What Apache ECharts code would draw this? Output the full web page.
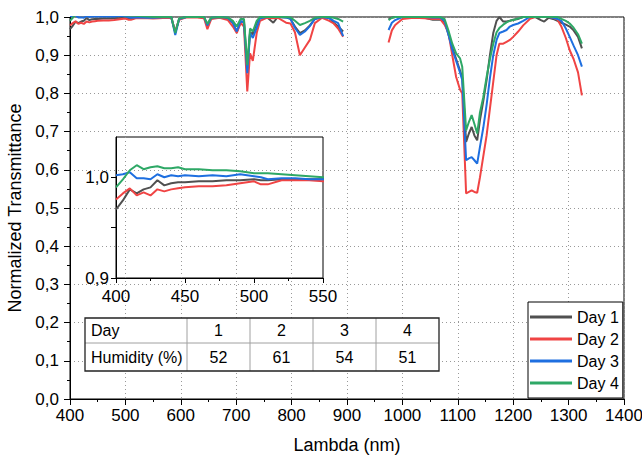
<!DOCTYPE html>
<html>
<head>
<meta charset="utf-8">
<script src="https://cdn.jsdelivr.net/npm/echarts@6/dist/echarts.min.js"></script>
<style>
html,body{margin:0;padding:0;background:#fff;}
#chart{width:642px;height:458px;}
</style>
</head>
<body>
<div id="chart"></div>
<script>
// ---- data ----
const WAVELENGTH = [400,405,410,415,420,425,430,435,440,445,450,460,470,480,490,500,505,510,520,530,540,550,
  560,575,583,590,597,610,630,642,648,655,670,685,694,701,708,714,720,725,730,737,743,755,767,775,790,798,806,815,824,833,842,855,868,876,884,893,
  935,
  975,981,987,1000,1020,1040,1055,1068,1076,1083,1090,1097,1104,1108,1115,1120,1125,1130,1135,1140,1146,1152,1158,1164,1170,1175,1182,1188,1194,1200,1209,1218,1230,1240,1250,1256,1264,1272,1280,1287,1295,1302,1309,1317,1324];

const DAY1 = [0.968,0.977,0.988,0.984,0.988,0.990,0.997,0.992,0.994,0.995,0.995,0.996,0.996,0.997,0.997,0.998,0.997,0.997,0.998,0.998,0.998,0.998,
  0.999,0.999,0.998,0.960,0.995,1.000,1.000,0.999,0.976,0.997,1.000,0.996,0.985,0.962,0.985,0.990,0.865,0.960,0.955,0.985,0.998,1.000,0.985,1.000,0.999,0.995,0.975,0.958,0.965,0.978,0.995,1.000,0.998,0.985,0.975,0.962,
  null,
  0.995,0.998,1.000,1.000,1.000,0.998,0.993,0.993,0.988,0.955,0.920,0.890,0.860,0.840,0.673,0.695,0.712,0.690,0.677,0.730,0.780,0.835,0.900,0.958,0.990,1.000,0.988,0.988,0.990,0.993,0.995,1.000,1.000,1.000,0.992,0.988,0.998,0.995,0.990,0.985,0.980,0.975,0.965,0.948,0.918];

const DAY2 = [0.978,0.984,0.989,0.982,0.985,0.982,0.988,0.986,0.988,0.989,0.990,0.991,0.991,0.992,0.994,0.996,0.993,0.993,0.997,0.997,0.997,0.996,
  0.997,0.998,0.997,0.962,0.993,0.999,0.999,0.997,0.968,0.995,0.998,0.992,0.975,0.958,0.985,0.975,0.805,0.905,0.885,0.958,0.990,0.998,0.997,0.998,0.985,0.983,0.960,0.900,0.920,0.940,0.984,0.998,0.990,0.983,0.970,0.948,
  null,
  0.933,0.965,0.979,0.995,0.998,0.997,0.995,0.995,0.980,0.960,0.900,0.843,0.810,0.800,0.538,0.542,0.546,0.542,0.540,0.580,0.635,0.690,0.760,0.830,0.900,0.930,0.930,0.935,0.940,0.948,0.962,0.978,0.995,1.000,1.000,1.000,1.000,0.998,0.993,0.975,0.945,0.913,0.890,0.855,0.795];

const DAY3 = [1.002,1.003,1.005,0.999,0.999,0.998,1.003,1.000,1.002,1.001,1.002,1.001,1.002,1.001,1.003,1.001,1.000,0.998,0.999,0.999,0.998,0.998,
  0.999,1.000,0.999,0.953,0.995,1.000,1.000,1.000,0.978,0.998,1.000,0.998,0.985,0.962,0.990,0.985,0.853,0.958,0.945,0.972,0.997,1.000,1.000,1.000,0.999,0.995,0.972,0.953,0.962,0.976,0.995,1.000,0.997,0.990,0.984,0.950,
  null,
  0.966,0.985,0.992,1.000,1.000,1.000,0.999,0.999,0.990,0.955,0.915,0.885,0.855,0.835,0.625,0.630,0.633,0.625,0.616,0.660,0.710,0.770,0.840,0.900,0.940,0.958,0.962,0.966,0.975,0.979,0.983,0.990,1.000,1.000,1.000,1.000,1.000,0.998,0.995,0.990,0.970,0.948,0.925,0.900,0.870];

const DAY4 = [0.990,0.998,1.007,1.012,1.008,1.010,1.011,1.009,1.009,1.010,1.008,1.008,1.007,1.007,1.006,1.004,1.004,1.004,1.003,1.002,1.001,1.000,
  1.000,1.000,1.000,0.958,0.997,1.000,1.000,1.000,0.982,0.999,1.000,0.999,0.990,0.975,0.995,0.995,0.874,0.970,0.962,0.990,1.000,1.000,1.000,1.000,1.000,0.999,0.990,0.979,0.984,0.990,0.998,1.000,1.000,0.998,0.995,0.988,
  null,
  0.992,0.998,1.000,1.000,1.000,1.000,1.000,1.000,0.995,0.965,0.930,0.905,0.892,0.870,0.703,0.725,0.743,0.720,0.695,0.750,0.790,0.843,0.890,0.930,0.960,0.971,0.980,0.986,0.990,0.992,0.996,1.000,1.000,1.000,1.000,1.000,1.000,1.000,1.000,0.995,0.990,0.983,0.972,0.955,0.930];

const SERIES_NAMES = ['Day 1', 'Day 2', 'Day 3', 'Day 4'];
const SERIES_VALUES = [DAY1, DAY2, DAY3, DAY4];

const TABLE_HEADER = ['Day', 'Humidity (%)'];
const TABLE_DAYS = ['1', '2', '3', '4'];
const TABLE_HUMIDITY = ['52', '61', '54', '51'];

// ---- styles ----
const COLORS = ['#505050', '#f04444', '#1e6fe0', '#2ea866'];
const FONT = '"Liberation Sans", Arial, sans-serif';
const comma = v => (Math.round(v * 10) / 10).toFixed(1).replace('.', ',');
const plain = v => String(Math.round(v));

const chart = echarts.init(document.getElementById('chart'), null, {renderer: 'svg'});

const mkData = arr => WAVELENGTH.map((w, i) => [w, arr[i] === null ? '-' : arr[i]]);

const series = [];
SERIES_VALUES.forEach((arr, k) => {
  series.push({
    name: SERIES_NAMES[k], type: 'line', xAxisIndex: 0, yAxisIndex: 0,
    data: mkData(arr), showSymbol: false, symbol: 'none', connectNulls: false,
    lineStyle: {color: COLORS[k], width: 2}, itemStyle: {color: COLORS[k]},
    emphasis: {disabled: true}, animation: false, z: 3 + k
  });
});
SERIES_VALUES.forEach((arr, k) => {
  series.push({
    name: SERIES_NAMES[k], type: 'line', xAxisIndex: 1, yAxisIndex: 1,
    data: mkData(arr), showSymbol: false, symbol: 'none', connectNulls: false,
    lineStyle: {color: COLORS[k], width: 2}, itemStyle: {color: COLORS[k]},
    emphasis: {disabled: true}, animation: false, z: 3 + k
  });
});

const axisCommon = {
  axisLine: {show: true, onZero: false, lineStyle: {color: '#000', width: 1}},
  axisTick: {show: true, inside: false, length: 6, lineStyle: {color: '#000', width: 1}},
  minorTick: {show: true, splitNumber: 2, length: 3, lineStyle: {color: '#000', width: 1}},
  axisLabel: {color: '#000', fontSize: 17, fontFamily: FONT},
};

// table layout
const T = {x: 85, y: 318, w: 354, h: 53, firstCol: 102, rowH: 25};
const colW = (T.w - T.firstCol) / TABLE_DAYS.length;
const tableEls = [
  {type: 'rect', shape: {x: T.x, y: T.y, width: T.w, height: T.h}, style: {fill: '#fff', stroke: 'none'}, z: 10},
  {type: 'line', shape: {x1: T.x, y1: T.y + T.rowH, x2: T.x + T.w, y2: T.y + T.rowH}, style: {stroke: '#a0a0a0', lineWidth: 1}, z: 11},
];
for (let c = 0; c < TABLE_DAYS.length; c++) {
  const cx = T.x + T.firstCol + c * colW;
  tableEls.push({type: 'line', shape: {x1: cx, y1: T.y, x2: cx, y2: T.y + T.h}, style: {stroke: '#a0a0a0', lineWidth: 1}, z: 11});
  tableEls.push({type: 'text', x: cx + colW / 2, y: T.y + T.rowH / 2, style: {text: TABLE_DAYS[c], fill: '#000', font: '16px ' + FONT, align: 'center', verticalAlign: 'middle'}, z: 12});
  tableEls.push({type: 'text', x: cx + colW / 2, y: T.y + T.rowH + (T.h - T.rowH) / 2, style: {text: TABLE_HUMIDITY[c], fill: '#000', font: '16px ' + FONT, align: 'center', verticalAlign: 'middle'}, z: 12});
}
tableEls.push({type: 'text', x: T.x + 6, y: T.y + T.rowH / 2, style: {text: TABLE_HEADER[0], fill: '#000', font: '16px ' + FONT, align: 'left', verticalAlign: 'middle'}, z: 12});
tableEls.push({type: 'text', x: T.x + 6, y: T.y + T.rowH + (T.h - T.rowH) / 2, style: {text: TABLE_HEADER[1], fill: '#000', font: '16px ' + FONT, align: 'left', verticalAlign: 'middle'}, z: 12});
tableEls.push({type: 'rect', shape: {x: T.x, y: T.y, width: T.w, height: T.h}, style: {fill: 'none', stroke: '#222', lineWidth: 1.3}, z: 13});

chart.setOption({
  animation: false,
  backgroundColor: '#fff',
  textStyle: {fontFamily: FONT},
  grid: [
    {left: 70, right: 18, top: 17, bottom: 59, show: true, borderColor: '#000', borderWidth: 1, backgroundColor: 'transparent', outerBoundsMode: 'none', containLabel: false},
    {left: 116, width: 207, top: 137, height: 141, show: true, borderColor: '#000', borderWidth: 1, backgroundColor: 'transparent', outerBoundsMode: 'none', containLabel: false}
  ],
  xAxis: [
    Object.assign({}, axisCommon, {
      type: 'value', gridIndex: 0, min: 400, max: 1400, interval: 100,
      axisLabel: Object.assign({}, axisCommon.axisLabel, {margin: 8, formatter: plain}),
      splitLine: {show: true, lineStyle: {color: '#999', width: 1, type: [1, 3]}},
      name: 'Lambda (nm)', nameLocation: 'middle', nameGap: 37,
      nameTextStyle: {color: '#000', fontSize: 18, fontFamily: FONT}
    }),
    Object.assign({}, axisCommon, {
      type: 'value', gridIndex: 1, min: 400, max: 550, interval: 50,
      axisTick: Object.assign({}, axisCommon.axisTick, {length: 5}),
      axisLabel: Object.assign({}, axisCommon.axisLabel, {margin: 10, formatter: plain}),
      splitLine: {show: false}
    })
  ],
  yAxis: [
    Object.assign({}, axisCommon, {
      type: 'value', gridIndex: 0, min: 0, max: 1, interval: 0.1,
      axisLabel: Object.assign({}, axisCommon.axisLabel, {margin: 11, formatter: comma}),
      splitLine: {show: true, lineStyle: {color: '#999', width: 1, type: [1, 3]}},
      name: 'Normalized Transmittance', nameLocation: 'middle', nameGap: 43,
      nameTextStyle: {color: '#000', fontSize: 18, fontFamily: FONT}
    }),
    Object.assign({}, axisCommon, {
      type: 'value', gridIndex: 1, min: 0.9, max: 1.04, interval: 0.05,
      axisTick: Object.assign({}, axisCommon.axisTick, {length: 5, customValues: [0.9, 0.95, 1.0]}),
      minorTick: {show: false},
      axisLabel: Object.assign({}, axisCommon.axisLabel, {margin: 7, formatter: comma, customValues: [0.9, 1.0]}),
      splitLine: {show: false}
    })
  ],
  legend: {
    data: SERIES_NAMES, orient: 'vertical', left: 528, top: 302,
    icon: 'rect', itemWidth: 42, itemHeight: 3, itemGap: 6,
    padding: [7, 4, 7, 2],
    backgroundColor: '#fff', borderColor: '#000', borderWidth: 1, borderRadius: 0,
    textStyle: {color: '#000', fontSize: 16, fontFamily: FONT},
    selectedMode: false, z: 20
  },
  graphic: {elements: tableEls},
  series: series
});
</script>
</body>
</html>
